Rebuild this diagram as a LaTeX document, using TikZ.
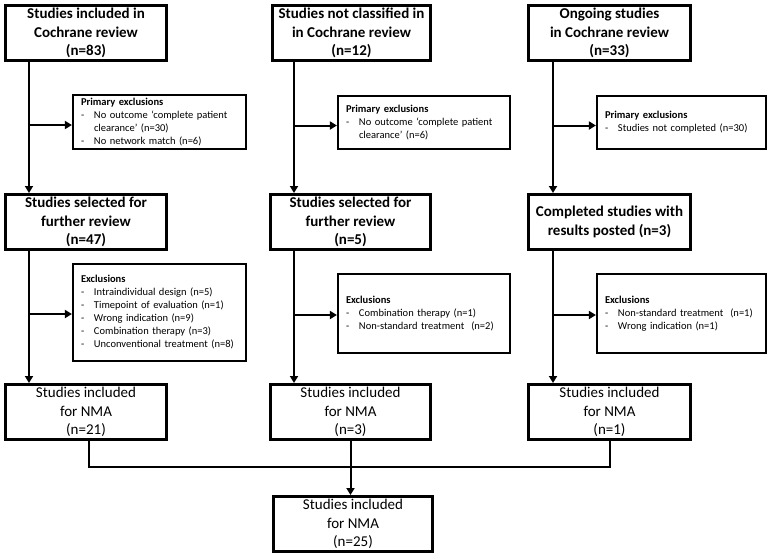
\documentclass[tikz,border=0pt]{standalone}
\usepackage{fontspec}
\setmainfont{Carlito}
\usetikzlibrary{arrows.meta}
\newcommand{\itm}{\makebox[13pt][l]{-}}
\newcommand{\ind}{\hspace*{13pt}}
\begin{document}
\begin{tikzpicture}[x=1pt,y=-1pt,
  mainbox/.style={draw,line width=3pt,minimum width=#1,minimum height=55pt,inner sep=0pt,align=center,font=\fontsize{15}{18.5}\selectfont\bfseries},
  nmabox/.style={draw,line width=3pt,minimum width=#1,minimum height=55pt,inner sep=0pt,align=center,font=\fontsize{15}{18.5}\selectfont},
  exbox/.style={draw,line width=2.2pt,inner xsep=8pt,inner ysep=0pt,align=left,font=\fontsize{10.5}{13}\selectfont},
  conn/.style={line width=2pt},
  arr/.style={line width=2pt,-{Triangle[length=7pt,width=8pt]}}
]
\useasboundingbox (0,0) rectangle (770,558);

% main boxes
\node[mainbox=161] (a1) at (86,33) {Studies included in\\Cochrane review\\(n=83)};
\node[mainbox=158] (a2) at (351.5,33) {Studies not classified in\\in Cochrane review\\(n=12)};
\node[mainbox=162] (a3) at (609.5,33) {Ongoing studies\\in Cochrane review\\(n=33)};
\node[mainbox=161] (b1) at (86,222) {Studies selected for\\further review\\(n=47)};
\node[mainbox=160] (b2) at (350.5,222) {Studies selected for\\further review\\(n=5)};
\node[mainbox=162] (b3) at (609.5,222) {Completed studies with\\results posted (n=3)};
\node[nmabox=161] (c1) at (86,412) {Studies included\\for NMA\\(n=21)};
\node[nmabox=160] (c2) at (350.5,412) {Studies included\\for NMA\\(n=3)};
\node[nmabox=162] (c3) at (609.5,412) {Studies included\\for NMA\\(n=1)};
\node[nmabox=159] (d) at (353,524) {Studies included\\for NMA\\(n=25)};

% exclusion boxes
\node[exbox,minimum height=54pt,text width=157pt] (e1) at (159.5,122)
  {\textbf{Primary exclusions}\\\itm No outcome ‘complete patient\\\ind clearance’ (n=30)\\\itm No network match (n=6)};
\node[exbox,minimum height=53pt,text width=156pt] (e2) at (424,122.5)
  {\textbf{Primary exclusions}\\\itm No outcome ‘complete patient\\\ind clearance’ (n=6)};
\node[exbox,minimum height=53pt,text width=153pt] (e3) at (681.5,122.5)
  {\textbf{Primary exclusions}\\\itm Studies not completed (n=30)};
\node[exbox,minimum height=97pt,text width=157pt] (f1) at (159.5,312.5)
  {\textbf{Exclusions}\\\itm Intraindividual design (n=5)\\\itm Timepoint of evaluation (n=1)\\\itm Wrong indication (n=9)\\\itm Combination therapy (n=3)\\\itm Unconventional treatment (n=8)};
\node[exbox,minimum height=79pt,text width=156pt] (f2) at (424,313.5)
  {\textbf{Exclusions}\\\itm Combination therapy (n=1)\\\itm Non-standard treatment\ \ (n=2)};
\node[exbox,minimum height=79pt,text width=153pt] (f3) at (681.5,313.5)
  {\textbf{Exclusions}\\\itm Non-standard treatment\ \ (n=1)\\\itm Wrong indication (n=1)};

% vertical line positions
\coordinate (v1) at (29,0);
\coordinate (v2) at (294,0);
\coordinate (v3) at (553,0);
\coordinate (p1) at ([yshift=-3pt]e1.west);
\coordinate (p2) at ([yshift=-3pt]e2.west);
\coordinate (p3) at ([yshift=-3pt]e3.west);
\coordinate (q1) at ([yshift=-1.5pt]f1.west);
\coordinate (q2) at ([yshift=-1.5pt]f2.west);
\coordinate (q3) at ([yshift=-1.5pt]f3.west);

\draw[arr] (a1.south -| v1) -- (b1.north -| v1);
\draw[arr] (a2.south -| v2) -- (b2.north -| v2);
\draw[arr] (a3.south -| v3) -- (b3.north -| v3);
\draw[arr] (v1 |- p1) -- (p1);
\draw[arr] (v2 |- p2) -- (p2);
\draw[arr] (v3 |- p3) -- (p3);

\draw[arr] (b1.south -| v1) -- (c1.north -| v1);
\draw[arr] (b2.south -| v2) -- (c2.north -| v2);
\draw[arr] (b3.south -| v3) -- (c3.north -| v3);
\draw[arr] (v1 |- q1) -- (q1);
\draw[arr] (v2 |- q2) -- (q2);
\draw[arr] (v3 |- q3) -- (q3);

% merge
\coordinate (j) at (350.5,467);
\draw[conn] ([xshift=3pt]c1.south) -- ([xshift=3pt]c1.south |- j) -- (c3.south |- j) -- (c3.south);
\draw[arr] (c2.south) -- (d.north -| c2.south);
\end{tikzpicture}
\end{document}
